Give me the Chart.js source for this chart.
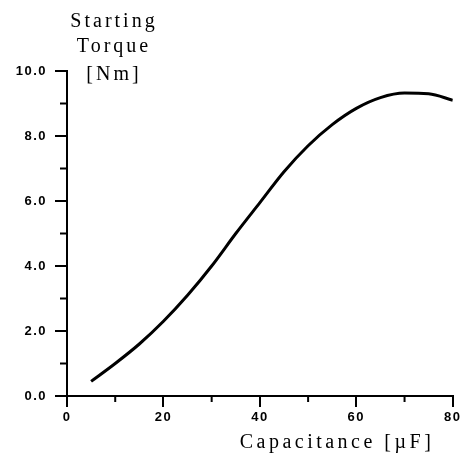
<!DOCTYPE html>
<html>
<head>
<meta charset="utf-8">
<script src="https://cdn.jsdelivr.net/npm/chart.js@4.4.0/dist/chart.umd.min.js"></script>
<style>
  html, body { margin: 0; padding: 0; background: #fff; }
  #wrap { position: relative; width: 463px; height: 455px; }
</style>
</head>
<body>
<div id="wrap"><canvas id="grafico"></canvas></div>
<script>
// datos
const capacitancia = [5, 10, 15, 20, 25, 30, 35, 40, 45, 50, 55, 60, 65, 70, 75, 80];
const par = [0.45, 1.0, 1.6, 2.3, 3.1, 4.0, 5.0, 5.95, 6.9, 7.7, 8.35, 8.85, 9.18, 9.32, 9.3, 9.1];
const ticksY = [0, 2, 4, 6, 8, 10];
const ticksX = [0, 20, 40, 60, 80];
const menoresY = [1, 3, 5, 7, 9];
const menoresX = [10, 30, 50, 70];
const tituloY = ['Starting', 'Torque', '[Nm]'];
const tituloX = 'Capacitance [µF]';

const puntos = capacitancia.map((c, i) => ({ x: c, y: par[i] }));

// espaciado de letras, marcas menores y títulos
const espaciado = {
    id: 'espaciado',
    beforeDraw(chart) {
        chart.ctx.letterSpacing = '1.5px';
    },
    afterDraw(chart) {
        const ctx = chart.ctx;
        const sx = chart.scales.x;
        const sy = chart.scales.y;
        ctx.save();
        ctx.strokeStyle = '#000';
        ctx.lineWidth = 2;
        // marcas menores
        menoresY.forEach(v => {
            const py = sy.getPixelForValue(v);
            ctx.beginPath();
            ctx.moveTo(chart.chartArea.left - 7, py);
            ctx.lineTo(chart.chartArea.left, py);
            ctx.stroke();
        });
        menoresX.forEach(v => {
            const px = sx.getPixelForValue(v);
            ctx.beginPath();
            ctx.moveTo(px, chart.chartArea.bottom);
            ctx.lineTo(px, chart.chartArea.bottom + 6);
            ctx.stroke();
        });
        // títulos
        ctx.fillStyle = '#000';
        ctx.font = '20px "Liberation Serif", "Times New Roman", serif';
        ctx.textAlign = 'center';
        ctx.textBaseline = 'alphabetic';
        ctx.letterSpacing = '3px';
        const baseY = [27, 52, 80];
        tituloY.forEach((t, i) => ctx.fillText(t, 114, baseY[i]));
        ctx.letterSpacing = '3.5px';
        ctx.fillText(tituloX, 337, 448);
        ctx.restore();
        ctx.letterSpacing = '0px';
    }
};

const ctx = document.getElementById('grafico').getContext('2d');
new Chart(ctx, {
    type: 'line',
    data: {
        datasets: [{
            data: puntos,
            borderColor: '#000',
            borderWidth: 3,
            pointRadius: 0,
            cubicInterpolationMode: 'monotone',
            fill: false
        }]
    },
    options: {
        responsive: true,
        maintainAspectRatio: false,
        animation: false,
        layout: { padding: { left: 0, top: 71, right: 9, bottom: 0 } },
        plugins: { legend: { display: false }, tooltip: { enabled: false } },
        scales: {
            x: {
                type: 'linear',
                min: 0,
                max: 80,
                afterBuildTicks: s => { s.ticks = ticksX.map(v => ({ value: v })); },
                afterFit: s => { s.height = 59; },
                border: { color: '#000', width: 2 },
                grid: { drawOnChartArea: false, color: '#000', lineWidth: 2, tickLength: 11 },
                ticks: {
                    color: '#000',
                    padding: 3,
                    maxRotation: 0,
                    font: { family: '"Liberation Sans", Arial, sans-serif', size: 13, weight: 'bold' }
                }
            },
            y: {
                min: 0,
                max: 10,
                afterBuildTicks: s => { s.ticks = ticksY.map(v => ({ value: v })); },
                afterFit: s => { s.width = 67; },
                border: { color: '#000', width: 2 },
                grid: { drawOnChartArea: false, color: '#000', lineWidth: 2, tickLength: 12 },
                ticks: {
                    color: '#000',
                    padding: 8,
                    callback: v => v.toFixed(1),
                    font: { family: '"Liberation Sans", Arial, sans-serif', size: 13, weight: 'bold' }
                }
            }
        }
    },
    plugins: [espaciado]
});
</script>
</body>
</html>
